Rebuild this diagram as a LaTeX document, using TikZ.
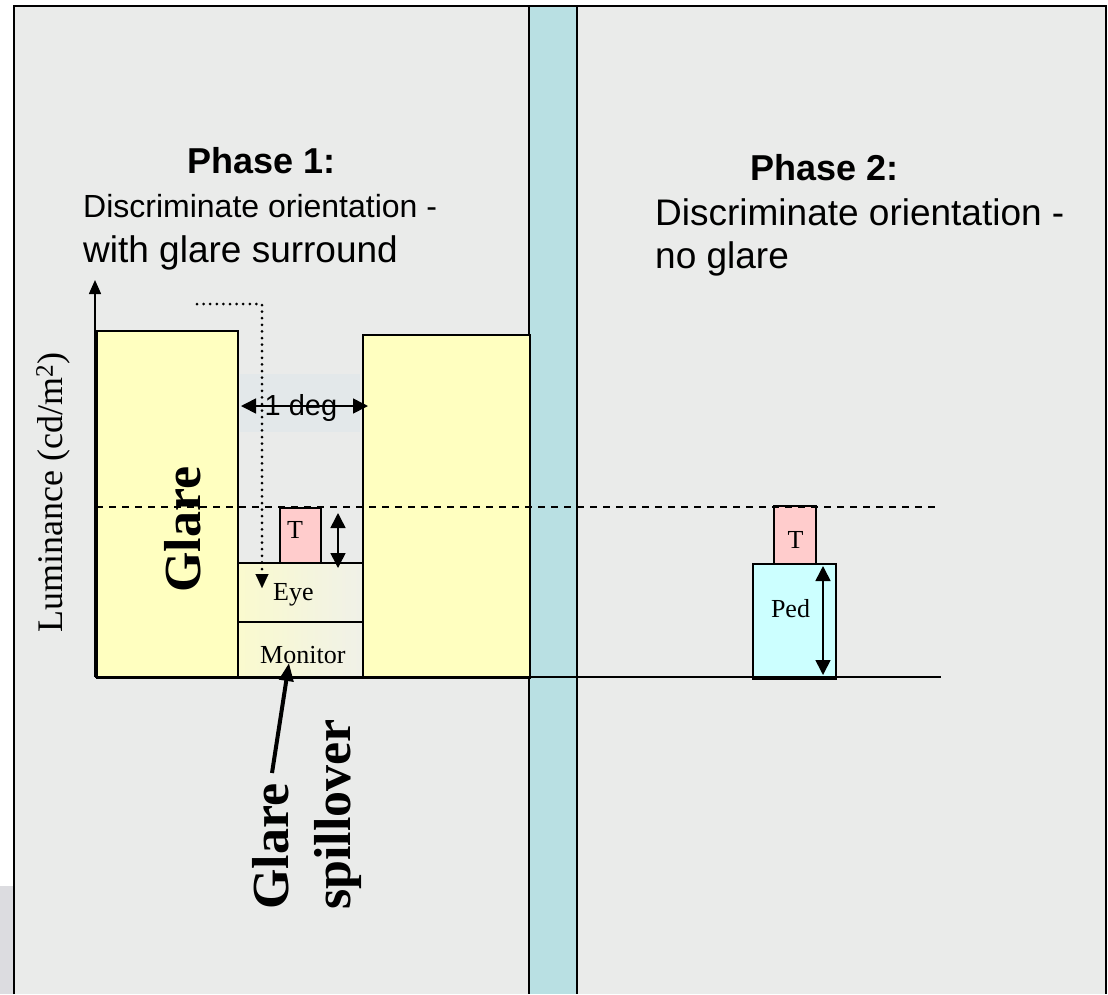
\documentclass[tikz,border=0pt]{standalone}
\usepackage{fontspec}
\setmainfont{Liberation Serif}
\newfontfamily\sansf{Liberation Sans}
\usetikzlibrary{arrows.meta}
\definecolor{panelbg}{RGB}{234,235,234}
\definecolor{barblue}{RGB}{185,224,227}
\definecolor{glareyellow}{RGB}{255,255,192}
\definecolor{tpink}{RGB}{255,204,204}
\definecolor{pedcyan}{RGB}{204,255,255}
\definecolor{stripgray}{RGB}{220,220,224}
\definecolor{degbg}{RGB}{227,232,234}
\definecolor{eyeL}{RGB}{250,250,206}
\definecolor{eyeR}{RGB}{240,241,232}
\tikzset{
  box/.style={draw=black, line width=1.6pt, inner sep=0pt, anchor=north west},
  lbl/.style={inner sep=0pt, font=\fontsize{26}{30}\selectfont},
  head/.style={inner sep=0pt, anchor=base west, font=\sansf\bfseries\fontsize{36}{42}\selectfont},
  sub/.style={inner sep=0pt, anchor=base west, font=\sansf\fontsize{37}{42}\selectfont},
  big/.style={inner sep=0pt, anchor=base west, rotate=90, font=\bfseries\fontsize{52}{60}\selectfont},
  thin/.style={line width=1.6pt},
  dblarrow/.style={line width=1.6pt, {Triangle[length=15pt,width=15pt]}-{Triangle[length=15pt,width=15pt]}}
}
\begin{document}
\begin{tikzpicture}[x=1pt,y=-1pt]
\useasboundingbox (0,0) rectangle (1108,994);
% background and frame
\fill[white] (0,0) rectangle (1108,994);
\fill[stripgray] (0,886) rectangle (14,994);
\fill[panelbg] (14,6) rectangle (1106,994);
\fill[barblue] (529,6) rectangle (577,994);
\draw[thin] (14,994) -- (14,6) -- (1106,6) -- (1106,994);
\draw[thin] (529,6) -- (529,994) (577,6) -- (577,994);

% headings
\node[head] (ph1) at (187,173) {Phase 1:};
\node[sub, font=\sansf\fontsize{32}{38}\selectfont] (d1) at (83,217) {Discriminate orientation -};
\node[sub] (w1) at (83,262) {with glare surround};
\node[head] (ph2) at (750,180) {Phase 2:};
\node[sub] (d2) at (655,225) {Discriminate orientation -};
\node[sub] (n2) at (655,268) {no glare};

% boxes
\node[box, fill=glareyellow, minimum width=141, minimum height=347] (glareL) at (96,330) {};
\node[box, fill=glareyellow, minimum width=167, minimum height=343] (glareR) at (362,334) {};
\node[box, left color=eyeL, right color=eyeR, minimum width=125, minimum height=59] (eye) at (237,562) {};
\node[box, left color=eyeL, right color=eyeR, minimum width=125, minimum height=56] (monitor) at (237,621) {};
\node[box, fill=tpink, minimum width=41, minimum height=55] (tL) at (279,507) {};
\node[box, fill=pedcyan, minimum width=83, minimum height=115] (ped) at (752,563) {};
\node[box, fill=tpink, minimum width=42, minimum height=58] (tR) at (773,505) {};
\node[fill=degbg, inner sep=0pt, minimum width=120, minimum height=58, anchor=north west] (degbox) at (240,374) {};

% labels
\node[lbl, anchor=base] (tLt) at (295,538) {T};
\node[lbl, anchor=base] (tRt) at (795.5,548) {T};
\node[lbl, anchor=base] (pedt) at (790.5,617) {Ped};
\node[lbl, anchor=base west] (eyet) at (273,600) {Eye};
\node[lbl, anchor=base west] (mont) at (260,663) {Monitor};
\node[inner sep=0pt, anchor=base, font=\sansf\fontsize{29}{34}\selectfont] (degt) at (301,415) {1 deg};
\node[inner sep=0pt, anchor=base west, rotate=90, font=\fontsize{36}{40}\selectfont] (lum) at (62,633) {Luminance (cd/m\textsuperscript{2})};
\node[big] (glareT) at (200,593) {Glare};
\node[big] (spA) at (288,910) {Glare};
\node[big] (spB) at (350,910) {spillover};

% axes
\coordinate (origin) at (95,677);
\coordinate (ytip) at (95,280);
\coordinate (xend) at (941,677);
\draw[thin, -{Triangle[length=14pt,width=12pt]}] (origin) -- (ytip);
\draw[thin] (origin) -- (xend);

% dashed threshold line
\coordinate (dA) at (96,507);
\coordinate (dB) at (938,507);
\draw[line width=1.5pt, dash pattern=on 7pt off 6pt] (dA) -- (dB);

% dotted eye path
\coordinate (dotS) at (197,304);
\coordinate (dotC) at (262,304);
\coordinate (dotE) at (262,575);
\coordinate (dotTip) at (262,588);
\draw[line width=3pt, line cap=round, dash pattern=on 0pt off 6.6pt] (dotS) -- (dotC) -- (dotE);
\draw[line width=0.1pt, -{Triangle[length=14pt,width=13pt]}] (dotE) -- (dotTip);

% 1 deg arrow
\coordinate (degA) at (241,406);
\coordinate (degB) at (368,406);
\draw[dblarrow] (degA) -- (degB);

% T range arrow
\coordinate (tA) at (338,513);
\coordinate (tB) at (338,568);
\draw[dblarrow] (tA) -- (tB);

% Ped arrow
\coordinate (pA) at (823,566);
\coordinate (pB) at (823,675);
\draw[dblarrow] (pA) -- (pB);

% spillover arrow
\coordinate (spS) at (272,773);
\coordinate (monTip) at (289,663);
\draw[line width=4pt, -{Triangle[length=18pt,width=14pt]}] (spS) -- (monTip);
\end{tikzpicture}
\end{document}
